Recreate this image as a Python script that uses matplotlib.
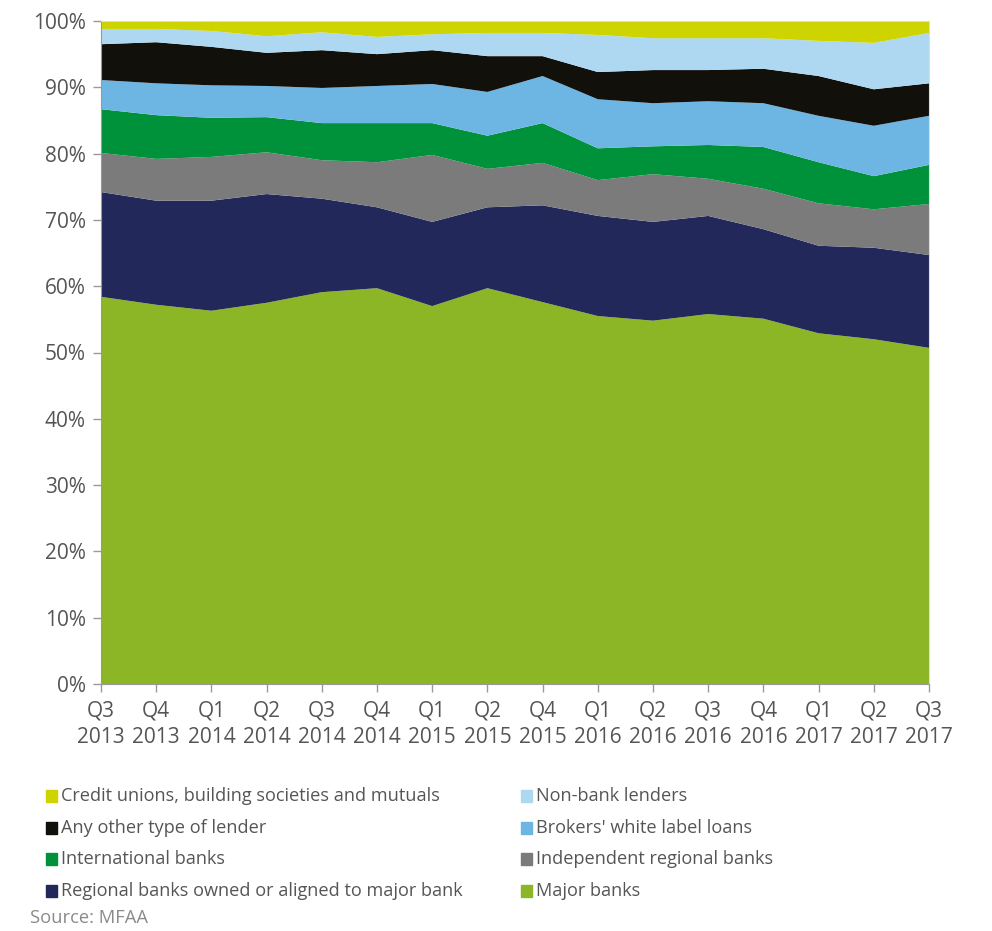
import matplotlib
matplotlib.use("Agg")
import matplotlib.pyplot as plt
from matplotlib.patches import Rectangle

plt.rcParams['font.family'] = ['Open Sans', 'DejaVu Sans']

quarters = ["Q3\n2013", "Q4\n2013", "Q1\n2014", "Q2\n2014", "Q3\n2014", "Q4\n2014",
            "Q1\n2015", "Q2\n2015", "Q4\n2015", "Q1\n2016", "Q2\n2016", "Q3\n2016",
            "Q4\n2016", "Q1\n2017", "Q2\n2017", "Q3\n2017"]

# shares in %, bottom to top of the stack
major_banks = [58.4, 57.2, 56.3, 57.5, 59.1, 59.7, 57.0, 59.7, 57.6, 55.5, 54.8, 55.8, 55.1, 52.9, 52.0, 50.7]
regional_owned = [15.8, 15.7, 16.6, 16.4, 14.1, 12.2, 12.7, 12.2, 14.6, 15.1, 14.9, 14.8, 13.5, 13.2, 13.8, 14.0]
independent_regional = [5.9, 6.3, 6.6, 6.3, 5.8, 6.8, 10.1, 5.8, 6.4, 5.4, 7.2, 5.6, 6.1, 6.4, 5.8, 7.7]
international = [6.6, 6.6, 5.9, 5.3, 5.6, 5.9, 4.8, 5.0, 6.0, 4.8, 4.2, 5.1, 6.3, 6.2, 5.0, 5.9]
brokers_white_label = [4.4, 4.8, 4.9, 4.7, 5.3, 5.6, 5.9, 6.6, 7.1, 7.4, 6.5, 6.6, 6.6, 7.0, 7.6, 7.4]
any_other = [5.4, 6.2, 5.8, 5.0, 5.7, 4.8, 5.1, 5.4, 3.0, 4.1, 5.0, 4.7, 5.2, 6.0, 5.5, 4.9]
non_bank = [2.3, 2.0, 2.4, 2.5, 2.7, 2.6, 2.4, 3.5, 3.5, 5.6, 4.8, 4.8, 4.6, 5.3, 7.0, 7.6]
credit_unions = [1.2, 1.2, 1.5, 2.3, 1.7, 2.4, 2.0, 1.8, 1.8, 2.1, 2.6, 2.6, 2.6, 3.0, 3.3, 1.8]

series = [major_banks, regional_owned, independent_regional, international,
          brokers_white_label, any_other, non_bank, credit_unions]
names = ["Major banks", "Regional banks owned or aligned to major bank",
         "Independent regional banks", "International banks",
         "Brokers' white label loans", "Any other type of lender",
         "Non-bank lenders", "Credit unions, building societies and mutuals"]
colors = ["#8cb625", "#23285b", "#7b7b7b", "#00923a",
          "#6db6e4", "#12100b", "#aed8f1", "#cdd400"]

text_col = "#555555"

fig = plt.figure(figsize=(9.92, 9.31), dpi=100)
ax = fig.add_axes([101 / 992, 1 - 684 / 931, 828 / 992, 663 / 931])

x = list(range(len(quarters)))
ax.stackplot(x, *series, colors=colors, linewidth=0)
ax.set_xlim(0, len(quarters) - 1)
ax.set_ylim(0, 100)

ax.set_yticks(range(0, 101, 10))
ax.set_yticklabels(["{}%".format(v) for v in range(0, 101, 10)])
ax.set_xticks(x)
ax.set_xticklabels(quarters, linespacing=1.35)
ax.tick_params(colors="#999999", labelcolor=text_col, labelsize=15, length=6, width=1)
ax.tick_params(axis="x", pad=6)
ax.tick_params(axis="y", pad=5)

for side in ["top", "right"]:
    ax.spines[side].set_color("#dddddd")
for side in ["left", "bottom"]:
    ax.spines[side].set_color("#999999")

# legend laid out in two columns like the original
legend_rows = [(names[7], colors[7], names[6], colors[6]),
               (names[5], colors[5], names[4], colors[4]),
               (names[3], colors[3], names[2], colors[2]),
               (names[1], colors[1], names[0], colors[0])]
row_y = [796, 828, 859, 891]
for (n1, c1, n2, c2), yy in zip(legend_rows, row_y):
    for n, c, xx in [(n1, c1, 46), (n2, c2, 521)]:
        fig.patches.append(Rectangle((xx / 992, 1 - (yy + 6) / 931), 11 / 992, 12 / 931,
                                     transform=fig.transFigure, color=c))
        fig.text((xx + 15) / 992, 1 - yy / 931, n, fontsize=13.1, color=text_col, va="center")

fig.text(30 / 992, 1 - 918 / 931, "Source: MFAA", fontsize=13.2, color="#8a8a8a", va="center")

fig.savefig("out.png", dpi=100)
